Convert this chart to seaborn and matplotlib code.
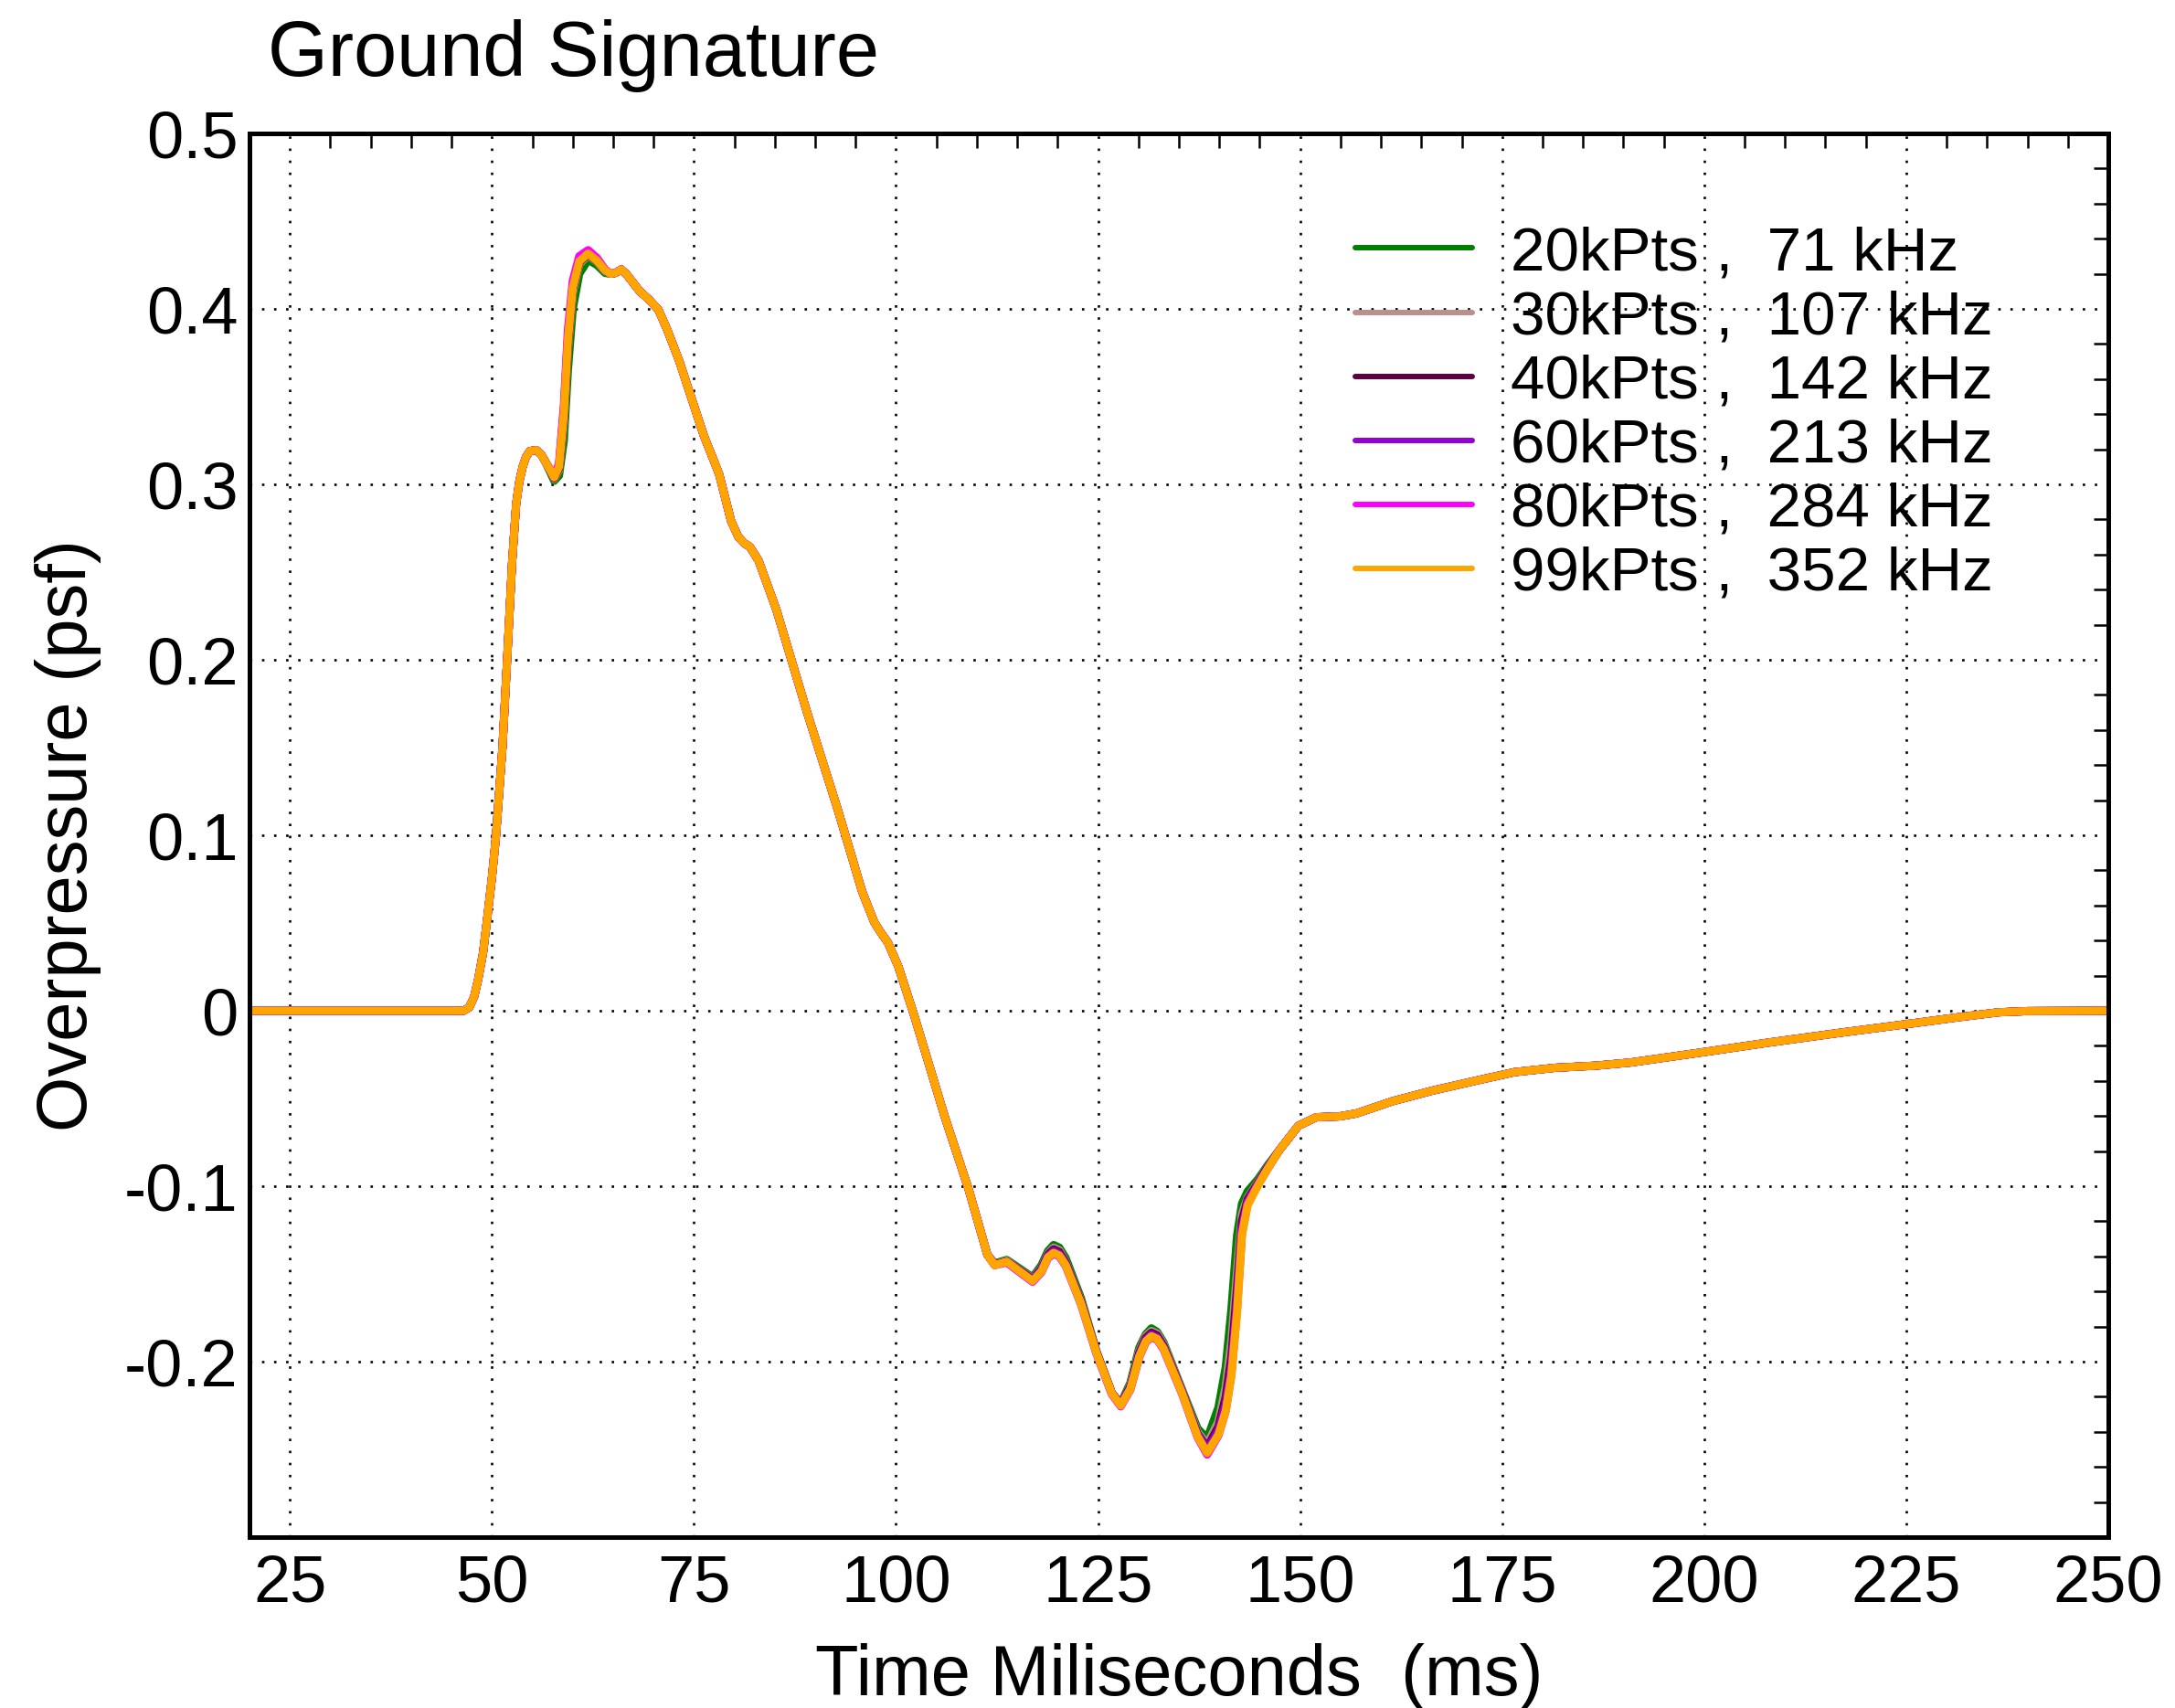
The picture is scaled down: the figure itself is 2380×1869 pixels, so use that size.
import numpy as np
import pandas as pd
import matplotlib
matplotlib.use("Agg")
import matplotlib.pyplot as plt
from matplotlib.lines import Line2D
from matplotlib.ticker import MultipleLocator, FixedLocator
import seaborn as sns

# ---------------- data ----------------
labels = ["20kPts ,  71 kHz", "30kPts ,  107 kHz", "40kPts ,  142 kHz",
          "60kPts ,  213 kHz", "80kPts ,  284 kHz", "99kPts ,  352 kHz"]
colors = ["#008000", "#BC8F8F", "#600040", "#9400D3", "#FF00FF", "#FFA500"]

# segment A (common to all series): quiet + first rise
t_a = [20, 46.5, 47.2, 47.8, 48.3, 48.9, 49.4, 50.0, 50.5, 51.3, 51.9, 52.5,
       53.0, 53.4, 53.8, 54.2, 54.7, 55.5, 56.1, 56.6]
p_a = [0, 0, 0.002, 0.008, 0.018, 0.033, 0.052, 0.076, 0.0995, 0.150, 0.202,
       0.256, 0.289, 0.302, 0.310, 0.3155, 0.319, 0.3195, 0.317, 0.313]

# segment B (per series): dip and main peak
t_b = [57.1, 57.7, 58.3, 58.9, 59.4, 60.0, 60.8, 61.9, 63.0, 64.0]
p_b_20 = [0.308, 0.302, 0.305, 0.325, 0.365, 0.400, 0.420, 0.428, 0.425, 0.4205]
p_b_30 = [0.309, 0.303, 0.308, 0.335, 0.377, 0.409, 0.4255, 0.4305, 0.427, 0.4215]
p_b_40 = [0.309, 0.3035, 0.309, 0.338, 0.380, 0.411, 0.4265, 0.431, 0.4275, 0.422]
p_b_60 = [0.309, 0.304, 0.3105, 0.342, 0.384, 0.413, 0.428, 0.432, 0.428, 0.422]
p_b_80 = [0.309, 0.3045, 0.312, 0.345, 0.388, 0.416, 0.430, 0.4335, 0.429, 0.4225]
p_b_99 = [0.309, 0.304, 0.310, 0.340, 0.382, 0.412, 0.427, 0.4315, 0.4275, 0.422]

# segment C (common): decay through zero
t_c = [64.7, 65.3, 66.0, 66.6, 67.2, 68.3, 69.4, 70.6, 71.7, 73.2, 74.7, 76.2,
       78.1, 79.6, 80.5, 81.2, 81.9, 83.0, 85.2, 89.0, 92.8, 95.8, 97.3, 98.2,
       99.0, 100.3, 102.2, 106.0, 109.0, 110.3]
p_c = [0.420, 0.4205, 0.4225, 0.420, 0.4165, 0.410, 0.4055, 0.3995, 0.388,
       0.370, 0.349, 0.328, 0.306, 0.279, 0.270, 0.2665, 0.2645, 0.2565, 0.2285,
       0.170, 0.1145, 0.068, 0.0505, 0.044, 0.0388, 0.025, -0.002, -0.060,
       -0.102, -0.123]

# segment D (per series): negative phase wiggles and recompression
t_d = [111.3, 112.2, 113.7, 115.0, 116.9, 118.0, 118.8, 119.5, 120.2, 121.0,
       122.9, 124.8, 126.7, 127.8, 129.0, 130.1, 130.9, 131.6, 132.3, 133.1,
       135.4, 137.3, 138.5, 139.9, 140.8, 141.5, 142.2, 142.8, 143.5, 144.8,
       146.0]
p_d_20 = [-0.139, -0.144, -0.142, -0.146, -0.152, -0.145, -0.137, -0.1335,
          -0.135, -0.141, -0.164, -0.194, -0.218, -0.224, -0.212, -0.192,
          -0.1845, -0.181, -0.183, -0.189, -0.216, -0.238, -0.244, -0.226,
          -0.203, -0.170, -0.128, -0.110, -0.103, -0.096, -0.088]
p_d_30 = [-0.139, -0.1444, -0.1425, -0.1467, -0.1528, -0.1465, -0.1385, -0.135,
          -0.1365, -0.143, -0.1655, -0.1943, -0.2178, -0.2243, -0.2133, -0.194,
          -0.1855, -0.1825, -0.184, -0.190, -0.2165, -0.240, -0.247, -0.234,
          -0.214, -0.188, -0.148, -0.116, -0.1065, -0.0975, -0.0888]
p_d_40 = [-0.139, -0.1446, -0.1428, -0.147, -0.1532, -0.147, -0.139, -0.136,
          -0.1375, -0.1435, -0.166, -0.1945, -0.2178, -0.2245, -0.214, -0.195,
          -0.1865, -0.1835, -0.185, -0.191, -0.217, -0.241, -0.249, -0.237,
          -0.220, -0.197, -0.158, -0.120, -0.1075, -0.098, -0.089]
p_d_60 = [-0.139, -0.1448, -0.143, -0.1472, -0.1535, -0.1475, -0.1395, -0.137,
          -0.1385, -0.144, -0.1665, -0.1948, -0.2178, -0.2245, -0.2148, -0.196,
          -0.1875, -0.1845, -0.186, -0.1918, -0.2175, -0.2415, -0.250, -0.239,
          -0.224, -0.203, -0.165, -0.124, -0.109, -0.0985, -0.0895]
p_d_80 = [-0.139, -0.145, -0.1435, -0.148, -0.1545, -0.149, -0.141, -0.1385,
          -0.140, -0.1455, -0.1675, -0.1955, -0.2185, -0.2255, -0.216, -0.1975,
          -0.189, -0.186, -0.1875, -0.193, -0.2185, -0.243, -0.253, -0.242,
          -0.228, -0.207, -0.170, -0.127, -0.110, -0.099, -0.090]
p_d_99 = [-0.139, -0.145, -0.143, -0.1475, -0.154, -0.1485, -0.1405, -0.138,
          -0.1395, -0.145, -0.167, -0.195, -0.218, -0.225, -0.2155, -0.197,
          -0.1885, -0.1855, -0.187, -0.1925, -0.218, -0.2425, -0.252, -0.2415,
          -0.228, -0.208, -0.172, -0.128, -0.111, -0.0995, -0.090]

# segment E (common): slow return to ambient
t_e = [147.5, 149.8, 152.0, 154.9, 157.0, 161.4, 166.4, 172.2, 176.5, 181.6,
       186.6, 190.9, 199.6, 208.2, 216.9, 225.6, 231.3, 236.4, 240.0, 250]
p_e = [-0.079, -0.0655, -0.0607, -0.0602, -0.0585, -0.0516, -0.0455, -0.0394,
       -0.035, -0.0325, -0.0313, -0.0295, -0.0238, -0.018, -0.0125, -0.0073,
       -0.0038, -0.0009, -0.0002, 0.0]

seg_b = [p_b_20, p_b_30, p_b_40, p_b_60, p_b_80, p_b_99]
seg_d = [p_d_20, p_d_30, p_d_40, p_d_60, p_d_80, p_d_99]

xticks = [25, 50, 75, 100, 125, 150, 175, 200, 225, 250]
yticks = [-0.2, -0.1, 0, 0.1, 0.2, 0.3, 0.4, 0.5]
ytick_labels = ["-0.2", "-0.1", "0", "0.1", "0.2", "0.3", "0.4", "0.5"]

# ---------------- assemble long-form table ----------------
rows = []
for lab, pb, pd_ in zip(labels, seg_b, seg_d):
    tt = t_a + t_b + t_c + t_d + t_e
    pp = p_a + pb + p_c + pd_ + p_e
    for i, (x, y) in enumerate(zip(tt, pp)):
        rows.append({"t": x, "p": y, "series": lab, "order": i})
df = pd.DataFrame(rows)

# ---------------- plotting ----------------
sns.set_style("white")
plt.rcParams["font.family"] = ["Liberation Sans", "DejaVu Sans"]
plt.rcParams["text.color"] = "black"
plt.rcParams["axes.labelcolor"] = "black"
plt.rcParams["xtick.color"] = "black"
plt.rcParams["ytick.color"] = "black"

fig = plt.figure(figsize=(23.8, 18.69), dpi=100)
ax = fig.add_axes([273 / 2380, 1 - 1682 / 1869, 2034 / 2380, 1536 / 1869])

palette = dict(zip(labels, colors))
sns.lineplot(data=df, x="t", y="p", hue="series", hue_order=labels,
             palette=palette, estimator=None, sort=False, units="series",
             linewidth=6.4, legend=False, ax=ax)
for ln in ax.get_lines():
    ln.set_solid_joinstyle("round")
    ln.set_solid_capstyle("round")

ax.set_xlim(20, 250)
ax.set_ylim(-0.3, 0.5)
ax.xaxis.set_major_locator(FixedLocator(xticks))
ax.yaxis.set_major_locator(FixedLocator(yticks))
ax.set_yticklabels(ytick_labels)
ax.xaxis.set_minor_locator(MultipleLocator(5))
ax.yaxis.set_minor_locator(MultipleLocator(0.02))

ax.grid(True, which="major", color="black", linestyle=(0, (1, 4)), linewidth=1.9)
ax.tick_params(which="both", direction="in", top=True, right=True,
               colors="black", labelcolor="black")
ax.tick_params(which="major", length=0, labelsize=52)
ax.tick_params(axis="x", which="major", pad=13)
ax.tick_params(axis="y", which="major", pad=9)
ax.tick_params(which="minor", length=11.5, width=1.8)
for s in ax.spines.values():
    s.set_linewidth(3.6)
    s.set_color("black")

ax.set_xlabel("Time Miliseconds  (ms)", fontsize=56, labelpad=22, color="black")
ax.set_ylabel("Overpressure (psf)", fontsize=56, labelpad=18, color="black")

fig.text(293 / 2380, 1 - 83 / 1869, "Ground Signature", fontsize=61,
         ha="left", va="baseline", color="black")

handles = [Line2D([0], [0], color=c, lw=4.3) for c in colors]
leg = ax.legend(handles, labels, loc="upper left",
                bbox_to_anchor=(1483 / 2380, 1 - 247 / 1869),
                bbox_transform=fig.transFigure, frameon=False, fontsize=48.5,
                handlelength=1.9, handletextpad=0.62, labelspacing=0.12,
                borderpad=0, borderaxespad=0)
for txt in leg.get_texts():
    txt.set_color("black")

fig.savefig("out.png", dpi=100)
